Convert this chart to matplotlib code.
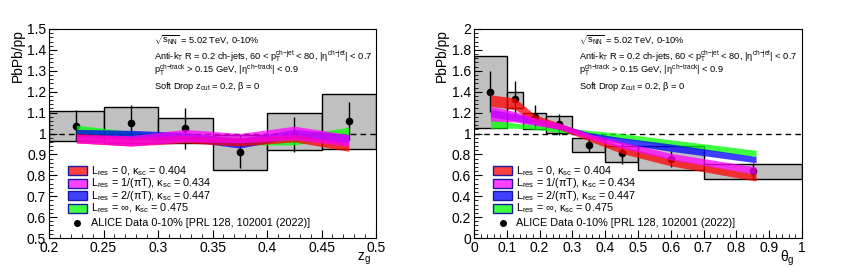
import matplotlib
matplotlib.use("Agg")
import matplotlib.pyplot as plt
from matplotlib.patches import Rectangle
from matplotlib.ticker import MultipleLocator

plt.rcParams['font.family'] = ['Liberation Sans', 'DejaVu Sans']
plt.rcParams['mathtext.fontset'] = 'custom'
plt.rcParams['mathtext.rm'] = 'Liberation Sans'
plt.rcParams['mathtext.it'] = 'Liberation Sans'
plt.rcParams['mathtext.bf'] = 'Liberation Sans:bold'

# ---------------- z_g panel data ----------------
zg_edges = [0.2, 0.25, 0.3, 0.35, 0.4, 0.45, 0.5]
zg_x = [0.225, 0.275, 0.325, 0.375, 0.425, 0.475]
zg_data = [1.037, 1.05, 1.026, 0.913, 0.995, 1.061]
zg_stat = [0.075, 0.087, 0.098, 0.078, 0.085, 0.09]
zg_sys_lo = [0.966, 0.955, 0.955, 0.824, 0.923, 0.927]
zg_sys_hi = [1.109, 1.127, 1.074, 0.995, 1.098, 1.19]

zg_red_hi = [1.0, 0.985, 0.99, 0.98, 0.995, 0.955]
zg_red_lo = [0.955, 0.94, 0.955, 0.94, 0.96, 0.915]
zg_mag_hi = [0.995, 0.99, 1.02, 1.0, 1.035, 0.995]
zg_mag_lo = [0.955, 0.94, 0.96, 0.955, 0.97, 0.94]
zg_blue_hi = [1.02, 1.015, 1.005, 0.975, 1.02, 0.995]
zg_blue_lo = [0.985, 0.975, 0.965, 0.93, 0.98, 0.955]
zg_green_hi = [1.04, 1.01, 0.995, 0.98, 0.99, 1.03]
zg_green_lo = [1.0, 0.97, 0.96, 0.945, 0.945, 0.99]

# ---------------- theta_g panel data ----------------
th_edges = [0.0, 0.1, 0.15, 0.22, 0.3, 0.4, 0.5, 0.7, 1.0]
th_pts = [0.05, 0.125, 0.185, 0.26, 0.35, 0.45, 0.6, 0.85]
th_data = [1.40, 1.33, 1.16, 1.09, 0.893, 0.81, 0.756, 0.64]
th_stat = [0.195, 0.17, 0.11, 0.1, 0.07, 0.1, 0.075, 0.08]
th_sys_lo = [1.053, 1.24, 1.04, 1.005, 0.82, 0.724, 0.648, 0.567]
th_sys_hi = [1.745, 1.40, 1.196, 1.17, 0.957, 0.884, 0.88, 0.712]

th_x = [0.05, 0.125, 0.185, 0.26, 0.35, 0.45, 0.6, 0.86]
th_red_hi = [1.37, 1.34, 1.18, 1.10, 0.99, 0.88, 0.76, 0.61]
th_red_lo = [1.26, 1.23, 1.10, 1.04, 0.93, 0.81, 0.69, 0.545]
th_mag_hi = [1.26, 1.21, 1.15, 1.10, 1.00, 0.92, 0.81, 0.68]
th_mag_lo = [1.12, 1.11, 1.08, 1.04, 0.95, 0.86, 0.75, 0.61]
th_blue_hi = [1.23, 1.19, 1.15, 1.09, 1.01, 0.96, 0.90, 0.78]
th_blue_lo = [1.16, 1.12, 1.09, 1.04, 0.97, 0.90, 0.83, 0.72]
th_green_hi = [1.13, 1.10, 1.08, 1.06, 1.03, 1.00, 0.94, 0.84]
th_green_lo = [1.05, 1.05, 1.04, 1.01, 0.99, 0.95, 0.88, 0.78]

labels = [r'$\mathregular{L_{res}}$ = 0, $\kappa_{sc}$ = 0.404',
          r'$\mathregular{L_{res}}$ = 1/($\pi$T), $\kappa_{sc}$ = 0.434',
          r'$\mathregular{L_{res}}$ = 2/($\pi$T), $\kappa_{sc}$ = 0.447',
          r'$\mathregular{L_{res}}$ = $\infty$, $\kappa_{sc}$ = 0.475']
colors = ['#ff0000', '#ff00ff', '#0000ff', '#00ff00']
data_label = 'ALICE Data 0-10% [PRL 128, 102001 (2022)]'
info = [r'$\sqrt{s_{NN}}$ = 5.02 TeV, 0-10%',
        r'Anti-k$_{T}$ R = 0.2 ch-jets, 60 < p$_{T}^{ch\mathrm{-}jet}$ < 80, |$\eta^{ch\mathrm{-}jet}$| < 0.7',
        r'p$_{T}^{ch\mathrm{-}track}$ > 0.15 GeV, |$\eta^{ch\mathrm{-}track}$| < 0.9',
        r'Soft Drop z$_{cut}$ = 0.2, $\beta$ = 0']

fig = plt.figure(figsize=(8.51, 2.67), dpi=100)
axL = fig.add_axes([0.0576, 0.1086, 0.3843, 0.7828])
axR = fig.add_axes([0.557, 0.1086, 0.3854, 0.7828])


def draw(ax, edges, pts, data, stat, slo, shi, bx, bands, xlim, ylim, xmaj, xmin, ymaj, ymin,
         xlabel, xlab_x, xlab_y):
    for i in range(len(slo)):
        ax.add_patch(Rectangle((edges[i], slo[i]), edges[i + 1] - edges[i], shi[i] - slo[i],
                               facecolor='#c0c0c0', edgecolor='black', lw=1.0, zorder=1))
    ax.axhline(1.0, color='black', ls=(0, (4, 3)), lw=1.0, zorder=2)
    ax.errorbar(pts, data, yerr=stat, fmt='o', color='black', ms=4.5, elinewidth=1.0,
                capsize=0, zorder=3)
    for (lo, hi), c in bands:
        ax.fill_between(bx, lo, hi, color=c, alpha=0.75, lw=0, zorder=4)
    ax.set_xlim(*xlim)
    ax.set_ylim(*ylim)
    ax.xaxis.set_major_locator(MultipleLocator(xmaj))
    ax.xaxis.set_minor_locator(MultipleLocator(xmin))
    ax.yaxis.set_major_locator(MultipleLocator(ymaj))
    ax.yaxis.set_minor_locator(MultipleLocator(ymin))
    ax.tick_params(which='both', direction='in', labelsize=10, pad=2)
    ax.tick_params(which='major', length=6)
    ax.tick_params(which='minor', length=3)
    ax.set_ylabel('PbPb/pp', fontsize=10, loc='top')
    ax.yaxis.set_label_coords(-0.074, 1.0)
    ax.text(xlab_x, xlab_y, xlabel, transform=ax.transAxes, ha='right', va='top', fontsize=10)
    # info text
    ys = [0.943, 0.871, 0.804, 0.727]
    for t, y in zip(info, ys):
        ax.text(0.32, y, t, transform=ax.transAxes, fontsize=6.7, va='center', ha='left')
    # legend
    rows = [0.322, 0.262, 0.203, 0.143, 0.074]
    for lab, c, y in zip(labels, colors, rows):
        ax.add_patch(Rectangle((0.058, y - 0.022), 0.058, 0.044, transform=ax.transAxes,
                               facecolor=c, alpha=0.75, edgecolor='none', zorder=5, clip_on=False))
        ax.add_patch(Rectangle((0.058, y - 0.022), 0.058, 0.044, transform=ax.transAxes,
                               facecolor='none', edgecolor='#1a1aa0', lw=1.0, zorder=6, clip_on=False))
        ax.text(0.128, y, lab, transform=ax.transAxes, fontsize=7.8, va='center', ha='left', zorder=6)
    ax.plot([0.087], [rows[4]], 'o', color='black', ms=4, transform=ax.transAxes, zorder=6)
    ax.text(0.128, rows[4], data_label, transform=ax.transAxes, fontsize=7.8, va='center', ha='left')


draw(axL, zg_edges, zg_x, zg_data, zg_stat, zg_sys_lo, zg_sys_hi, zg_x,
     [((zg_green_lo, zg_green_hi), colors[3]), ((zg_blue_lo, zg_blue_hi), colors[2]),
      ((zg_red_lo, zg_red_hi), colors[0]), ((zg_mag_lo, zg_mag_hi), colors[1])],
     (0.2, 0.5), (0.5, 1.5), 0.05, 0.01, 0.1, 0.02, r'z$_{g}$', 0.985, -0.062)
axL.set_xticks([0.2, 0.25, 0.3, 0.35, 0.4, 0.45, 0.5])
axL.set_xticklabels(['0.2', '0.25', '0.3', '0.35', '0.4', '0.45', '0.5'])
axL.set_yticks([0.5, 0.6, 0.7, 0.8, 0.9, 1.0, 1.1, 1.2, 1.3, 1.4, 1.5])
axL.set_yticklabels(['0.5', '0.6', '0.7', '0.8', '0.9', '1', '1.1', '1.2', '1.3', '1.4', '1.5'])

draw(axR, th_edges, th_pts, th_data, th_stat, th_sys_lo, th_sys_hi, th_x,
     [((th_green_lo, th_green_hi), colors[3]), ((th_blue_lo, th_blue_hi), colors[2]),
      ((th_red_lo, th_red_hi), colors[0]), ((th_mag_lo, th_mag_hi), colors[1])],
     (0.0, 1.0), (0.0, 2.0), 0.1, 0.02, 0.2, 0.04, r'$\theta_{g}$', 0.978, -0.05)
axR.set_xticks([0, 0.1, 0.2, 0.3, 0.4, 0.5, 0.6, 0.7, 0.8, 0.9, 1.0])
axR.set_xticklabels(['0', '0.1', '0.2', '0.3', '0.4', '0.5', '0.6', '0.7', '0.8', '0.9', '1'])
axR.set_yticks([0, 0.2, 0.4, 0.6, 0.8, 1.0, 1.2, 1.4, 1.6, 1.8, 2.0])
axR.set_yticklabels(['0', '0.2', '0.4', '0.6', '0.8', '1', '1.2', '1.4', '1.6', '1.8', '2'])
axR.yaxis.set_label_coords(-0.076, 1.0)

fig.savefig('out.png', dpi=100)
